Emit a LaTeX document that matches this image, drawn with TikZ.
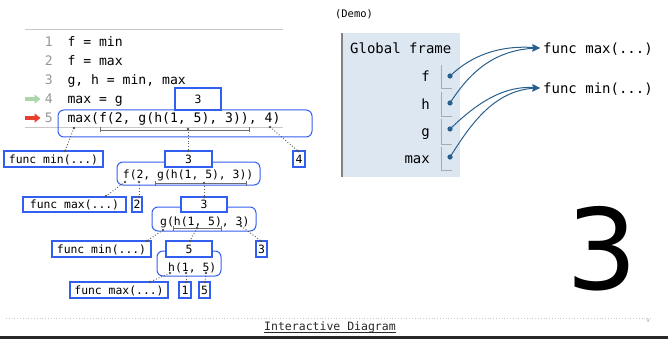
\documentclass[tikz,border=0pt]{standalone}
\usepackage{fontspec}
\setmainfont{DejaVu Sans}
\setmonofont{DejaVu Sans Mono}
\usetikzlibrary{arrows.meta}
\definecolor{boxblue}{RGB}{50,95,240}
\definecolor{conngray}{RGB}{85,85,85}
\definecolor{brkgray}{RGB}{110,110,110}
\definecolor{linegray}{RGB}{200,200,200}
\definecolor{numgray}{RGB}{150,150,150}
\definecolor{framebg}{RGB}{221,231,242}
\definecolor{framebar}{RGB}{130,130,130}
\definecolor{slotgray}{RGB}{170,170,170}
\definecolor{ptrblue}{RGB}{40,95,140}
\definecolor{arrgreen}{RGB}{170,215,170}
\definecolor{arrred}{RGB}{232,64,44}
\definecolor{darktext}{RGB}{40,40,40}
\begin{document}
\begin{tikzpicture}[x=1pt,y=-1pt,
  codef/.style={font=\fontsize{13.1}{15}\ttfamily, inner sep=0pt, text height=9.6pt, text depth=0pt},
  treef/.style={font=\fontsize{11.4}{13}\ttfamily, inner sep=0pt, text height=8.3pt, text depth=0pt},
  framef/.style={font=\fontsize{14}{16}\ttfamily, inner sep=0pt, text height=10.2pt, text depth=0pt},
  vbox/.style={draw=boxblue, fill=white, line width=1.3pt, treef},
  ebox/.style={draw=boxblue, line width=1pt, rounded corners=6pt, inner sep=0pt},
  conn/.style={draw=conngray, dotted, line width=0.9pt},
  cdot/.style={fill=conngray},
  brk/.style={draw=brkgray, line width=0.8pt, {Bar[width=5pt]}-{Bar[width=5pt]}},
  lnum/.style={codef, anchor=east, text=numgray},
  codeline/.style={codef, anchor=west},
  slot/.style={draw=slotgray, line width=0.8pt},
  ptr/.style={draw=ptrblue, line width=1pt, -{Stealth[length=8pt,width=7pt]}},
  pdot/.style={fill=ptrblue},
  lineptr/.style={line width=3.2pt, -{Triangle[length=6pt,width=9pt]}}
]
\useasboundingbox (0,0) rectangle (668,339);

% ---------- code ----------
\draw[linegray, line width=0.8pt] (25,29) -- (283,29);
\draw[linegray, line width=0.8pt] (25,127) -- (283,127);
\node[lnum] (n1) at (53,42) {1};
\node[lnum] (n2) at (53,61) {2};
\node[lnum] (n3) at (53,80) {3};
\node[lnum] (n4) at (53,99) {4};
\node[lnum] (n5) at (53,118) {5};
\node[codeline] (l1) at (67.3,42) {f = min};
\node[codeline] (l2) at (67.3,61) {f = max};
\node[codeline] (l3) at (67.3,80) {g, h = min, max};
\node[codeline] (l4) at (67.3,99) {max = g};
\node[codeline] (l5) at (67.3,118) {max(f(2, g(h(1, 5), 3)), 4)};
\coordinate (ga0) at (25,99); \coordinate (ga1) at (40.5,99);
\coordinate (ra0) at (25,118); \coordinate (ra1) at (40.5,118);
\draw[lineptr, arrgreen] (ga0) -- (ga1);
\draw[lineptr, arrred] (ra0) -- (ra1);

% ---------- expression boxes ----------
\node[ebox, minimum width=254pt, minimum height=27pt] (e0) at (185,123.5) {};
\node[ebox, minimum width=143pt, minimum height=23pt] (e1) at (188.5,173.5) {};
\node[ebox, minimum width=104pt, minimum height=24pt] (e3) at (204,219) {};
\node[ebox, minimum width=64pt, minimum height=25pt] (e4) at (189,263.5) {};
\node[treef, anchor=west] (t1) at (122.7,174) {f(2, g(h(1, 5), 3))};
\node[treef, anchor=west] (t3) at (160,221) {g(h(1, 5), 3)};
\node[treef, anchor=west] (t4) at (168,267) {h(1, 5)};

% brackets
\coordinate (b0l) at (100,130); \coordinate (b0r) at (250,130);
\coordinate (b1l) at (155,183); \coordinate (b1r) at (247,183);
\coordinate (b3l) at (173,228); \coordinate (b3r) at (222,228);
\draw[brk] (b0l) -- (b0r);
\draw[brk] (b1l) -- (b1r);
\draw[brk] (b3l) -- (b3r);

% ---------- value boxes ----------
\node[vbox, minimum width=46pt, minimum height=22pt] (v0) at (198,99) {3};
\node[vbox, minimum width=99pt, minimum height=16pt] (fmin1) at (53.5,159) {func min(...)};
\node[vbox, minimum width=12pt, minimum height=16pt] (v4) at (299,159) {4};
\node[vbox, minimum width=47pt, minimum height=16pt] (v1) at (188.5,159) {3};
\node[vbox, minimum width=103pt, minimum height=15pt] (fmax2) at (74.5,204.5) {func max(...)};
\node[vbox, minimum width=10pt, minimum height=15pt] (v2) at (137,204.5) {2};
\node[vbox, minimum width=46pt, minimum height=15pt] (v3) at (204,204.5) {3};
\node[vbox, minimum width=99pt, minimum height=16pt] (fmin3) at (101.5,249) {func min(...)};
\node[vbox, minimum width=11pt, minimum height=16pt] (v3b) at (261.5,249) {3};
\node[vbox, minimum width=46pt, minimum height=16pt] (v5) at (189,249) {5};
\node[vbox, minimum width=98pt, minimum height=16pt] (fmax4) at (119,290) {func max(...)};
\node[vbox, minimum width=12pt, minimum height=16pt] (v1b) at (185,290) {1};
\node[vbox, minimum width=11pt, minimum height=16pt] (v5b) at (204.5,290) {5};

% ---------- connectors ----------
\coordinate (s0a) at (74,128);  \coordinate (d0a) at (65,151);
\coordinate (s0b) at (188,129); \coordinate (d0b) at (188,151);
\coordinate (s0c) at (270,127); \coordinate (d0c) at (298,151);
\coordinate (s1a) at (125,182); \coordinate (d1a) at (106,196);
\coordinate (s1b) at (139,182); \coordinate (d1b) at (139,197);
\coordinate (s1c) at (204,183); \coordinate (d1c) at (204,197);
\coordinate (s3a) at (163,230); \coordinate (d3a) at (147,241);
\coordinate (s3b) at (197,228); \coordinate (d3b) at (190,241);
\coordinate (s3c) at (241,226); \coordinate (d3c) at (261,241);
\coordinate (s4a) at (170,273); \coordinate (d4a) at (150,282);
\coordinate (s4b) at (186,273); \coordinate (d4b) at (186,282);
\coordinate (s4c) at (206,273); \coordinate (d4c) at (205,282);
\foreach \p in {0a,0b,0c,1a,1b,1c,3a,3b,3c,4a,4b,4c}{
  \draw[conn] (s\p) -- (d\p);
  \fill[cdot] (s\p) circle (1.4);
  \fill[cdot] (d\p) circle (1.4);
}

% ---------- global frame ----------
\node[font=\fontsize{10.4}{12}\ttfamily, inner sep=0pt] (demo) at (354,14) {(Demo)};
\node[fill=framebg, minimum width=119pt, minimum height=144pt, inner sep=0pt] (frame) at (400.5,105) {};
\draw[framebar, line width=2.5pt] ([xshift=1.25pt]frame.north west) -- ([xshift=1.25pt]frame.south west);
\node[framef, anchor=west] (gf) at (350,48) {Global frame};
\node[framef, anchor=east] (vf) at (430,76) {f};
\node[framef, anchor=east] (vh) at (430,104) {h};
\node[framef, anchor=east] (vg) at (430,131) {g};
\node[framef, anchor=east] (vmax) at (430,158) {max};
\draw[slot] (441,65) |- (452,88);
\draw[slot] (441,92) |- (452,116);
\draw[slot] (441,119) |- (452,144);
\draw[slot] (441,147) |- (452,170);
\coordinate (pf) at (450,76);
\coordinate (ph) at (450,103);
\coordinate (pg) at (450,129);
\coordinate (pm) at (450,157);
\node[framef, anchor=west, inner sep=3pt] (tmax) at (540,48) {func max(...)};
\node[framef, anchor=west, inner sep=3pt] (tmin) at (540,88) {func min(...)};
\draw[ptr] (pf) .. controls (472,55) and (500,45) .. (tmax.west);
\draw[ptr] (ph) .. controls (468,75) and (492,50) .. (tmax.west);
\draw[ptr] (pg) .. controls (472,108) and (500,85) .. (tmin.west);
\draw[ptr] (pm) .. controls (468,129) and (492,90) .. (tmin.west);
\foreach \q in {pf,ph,pg,pm}{ \fill[pdot] (\q) circle (2.6); }

% ---------- big result ----------
\node[font=\fontsize{112}{112}\selectfont, inner sep=0pt] (big) at (602,249) {3};

% ---------- footer ----------
\draw[linegray, dotted, line width=0.8pt] (6,318) -- (652,318);
\node[font=\fontsize{5}{5}\selectfont, text=slotgray, inner sep=0pt] (pg9) at (648,321) {9};
\node[font=\fontsize{11.5}{13}\ttfamily, text=darktext, inner sep=0pt, text height=8.4pt, text depth=0pt] (idg) at (330,326) {Interactive Diagram};
\draw[darktext, line width=0.7pt] ([yshift=-2.2pt]idg.south west) -- ([yshift=-2.2pt]idg.south east);
\draw[darktext, line width=3pt] (0,337.5) -- (668,337.5);
\end{tikzpicture}
\end{document}
